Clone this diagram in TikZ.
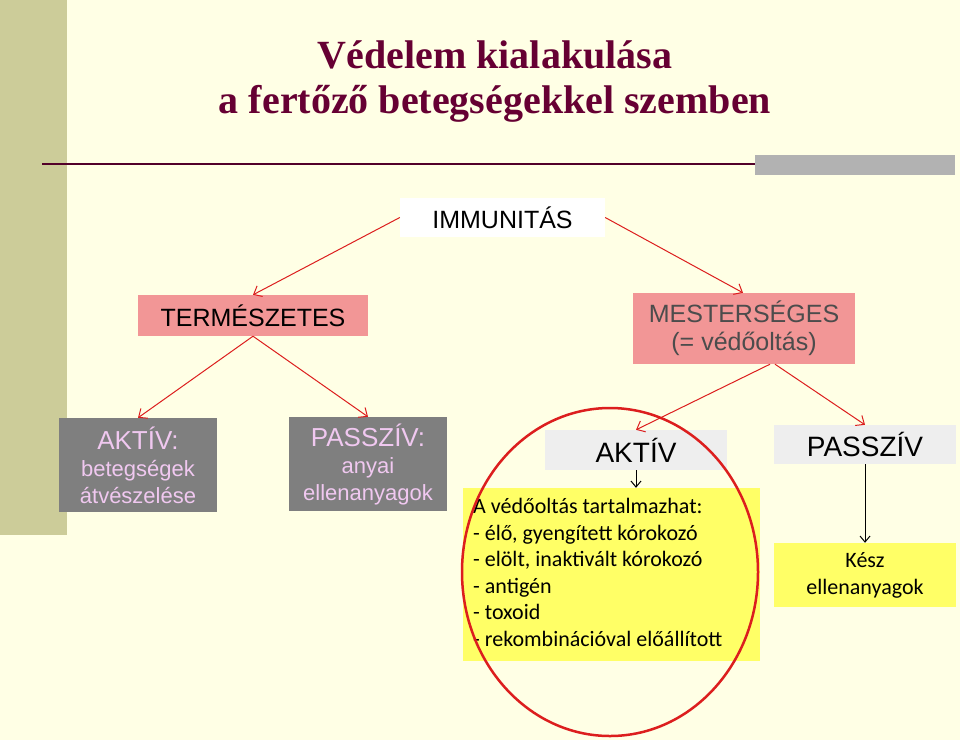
\documentclass[tikz,border=0pt]{standalone}
\usepackage{fontspec}
\setmainfont{Liberation Serif}
\setsansfont{Liberation Sans}
\newfontfamily\bodyfont{Carlito}
\usetikzlibrary{arrows.meta}
\definecolor{bgyellow}{RGB}{255,255,229}
\definecolor{stripcolor}{RGB}{204,204,153}
\definecolor{titlecolor}{RGB}{102,0,51}
\definecolor{pinkfill}{RGB}{242,150,150}
\definecolor{darkgray}{RGB}{127,127,127}
\definecolor{lilac}{RGB}{240,200,240}
\definecolor{lightgray}{RGB}{238,238,238}
\definecolor{notefill}{RGB}{255,255,102}
\definecolor{arrowred}{RGB}{220,30,30}
\tikzset{
  box/.style={inner sep=0pt, align=center, font=\sffamily\fontsize{25}{28}\selectfont},
  redarrow/.style={draw=arrowred, line width=1pt, -{Straight Barb[length=7pt,width=12pt]}},
  blackarrow/.style={draw=black, line width=1pt, -{Straight Barb[length=6pt,width=10pt]}}
}
\begin{document}
\begin{tikzpicture}[x=1pt,y=-1pt]
\useasboundingbox (0,0) rectangle (960,740);
\fill[bgyellow] (0,0) rectangle (960,740);
\fill[stripcolor] (0,0) rectangle (67,535);
% title
\node[font=\bfseries\fontsize{40}{45}\selectfont, text=titlecolor, align=center] (title) at (495,82)
  {Védelem kialakulása\\a fertőző betegségekkel szemben};
\fill[black!30] (755,155) rectangle (955,175);
\draw[titlecolor!80!black, line width=1.5pt] (42,164) -- (755,164);
% boxes
\node[box, fill=white, minimum width=205, minimum height=39] (immun) at (502.5,217.5) {IMMUNITÁS};
\node[box, fill=pinkfill, minimum width=230, minimum height=41] (termesz) at (253,315.5) {TERMÉSZETES};
\node[box, fill=pinkfill, minimum width=222, minimum height=71, text=black!70] (mester) at (744,328.5)
  {MESTERSÉGES\\(= védőoltás)};
\node[box, fill=darkgray, text=lilac, minimum width=158, minimum height=94,
  font=\sffamily\fontsize{22}{27}\selectfont] (aktivL) at (138,465)
  {{\fontsize{26}{27}\selectfont AKTÍV:}\\betegségek\\átvészelése};
\node[box, fill=darkgray, text=lilac, minimum width=158, minimum height=94,
  font=\sffamily\fontsize{22}{27}\selectfont] (passzivL) at (368,464)
  {{\fontsize{26}{27}\selectfont PASSZÍV:}\\anyai\\ellenanyagok};
\node[box, fill=lightgray, minimum width=182, minimum height=40, font=\sffamily\fontsize{28}{30}\selectfont] (aktivR) at (636,450) {AKTÍV};
\node[box, fill=lightgray, minimum width=182, minimum height=39, font=\sffamily\fontsize{28}{30}\selectfont] (passzivR) at (865,444.5) {PASSZÍV};
\node[fill=notefill, minimum width=297, minimum height=173, inner sep=0pt] (note) at (611.5,574.5) {};
\node[anchor=north west, align=left, inner sep=0pt, font=\bodyfont\fontsize{22}{26.6}\selectfont] (notetext) at (473,498)
  {A védőoltás tartalmazhat:\\- élő, gyengített kórokozó\\- elölt, inaktivált kórokozó\\- antigén\\- toxoid\\- rekombinációval előállított};
\node[fill=notefill, minimum width=182, minimum height=64, inner sep=0pt, align=center,
  font=\bodyfont\fontsize{22}{27}\selectfont] (kesz) at (865,575) {Kész\\ellenanyagok};
% circle
\draw[arrowred, line width=2.5pt] (610,572) ellipse [x radius=148, y radius=164];
% connectors
\draw[redarrow] (immun.west) -- (termesz.north);
\draw[redarrow] (immun.east) -- ([xshift=-1pt]mester.north);
\draw[redarrow] (termesz.south) -- (aktivL.north);
\draw[redarrow] (termesz.south) -- (passzivL.north);
\draw[redarrow] ([xshift=26pt]mester.south) -- (aktivR.north);
\draw[redarrow] ([xshift=31pt]mester.south) -- (passzivR.north);
\draw[blackarrow] (aktivR.south) -- (aktivR.south |- note.north);
\draw[blackarrow] (passzivR.south) -- (kesz.north);
\end{tikzpicture}
\end{document}
